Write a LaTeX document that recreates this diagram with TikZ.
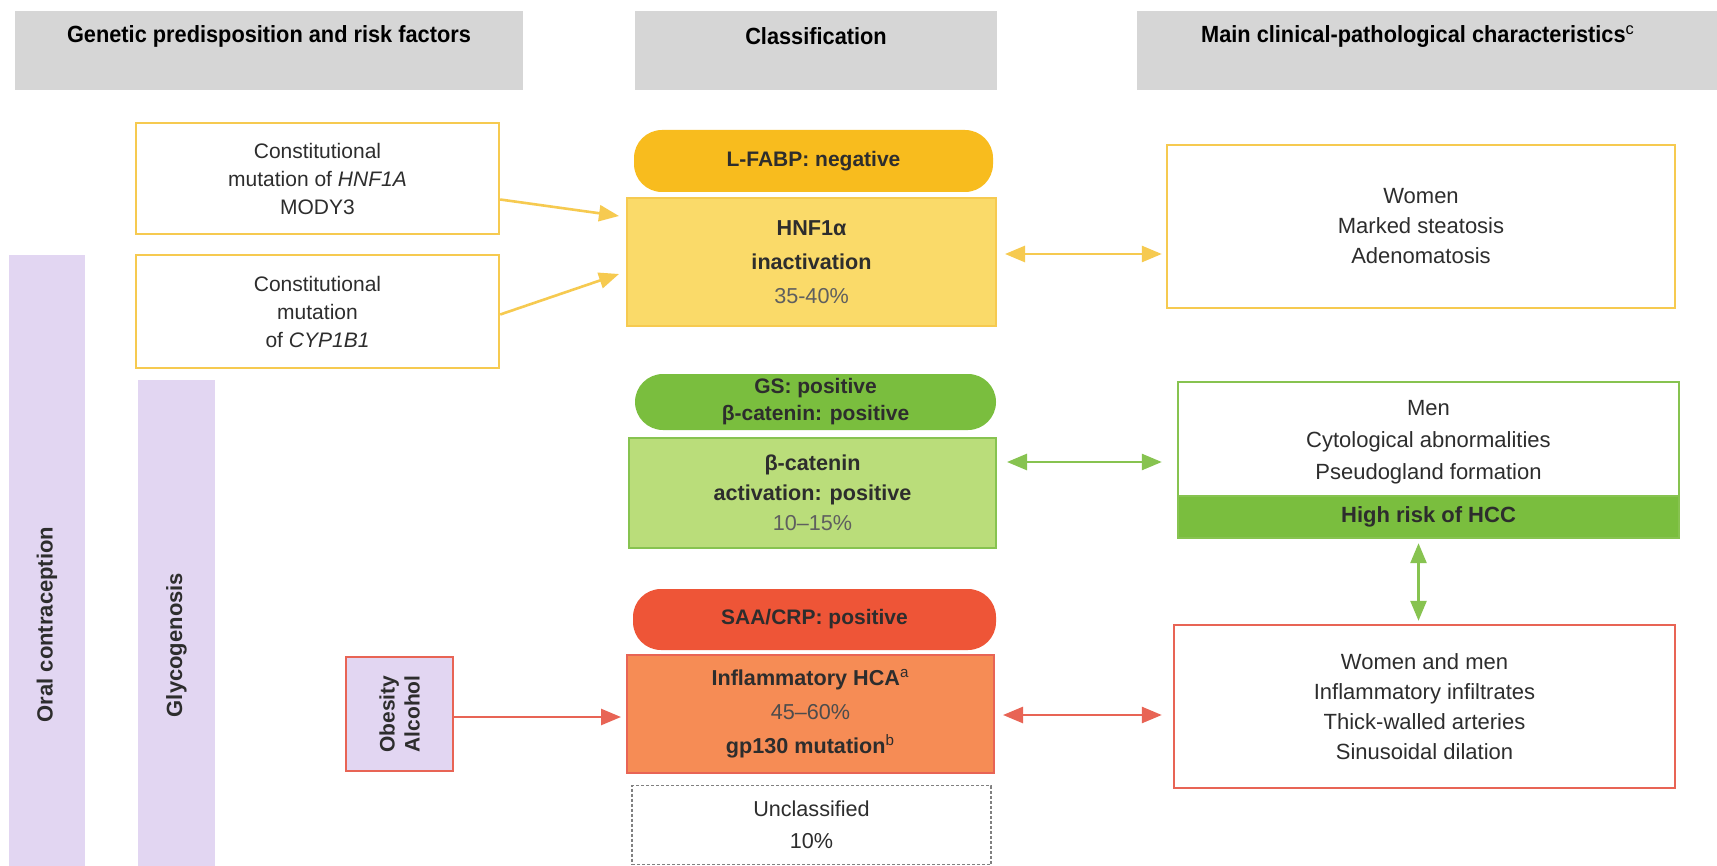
\documentclass[tikz,border=0pt]{standalone}
\usepackage{fontspec}
\setmainfont{Liberation Sans}
\newfontfamily\condfont[FakeStretch=0.93]{Liberation Sans}
\usetikzlibrary{arrows.meta,calc}
\definecolor{txt}{RGB}{45,45,45}
\definecolor{hdrgray}{RGB}{214,214,214}
\definecolor{ylw}{RGB}{246,202,80}
\definecolor{ypill}{RGB}{248,188,30}
\definecolor{yfill}{RGB}{250,218,105}
\definecolor{gpill}{RGB}{122,190,62}
\definecolor{gfill}{RGB}{186,221,122}
\definecolor{gline}{RGB}{135,195,80}
\definecolor{rpill}{RGB}{238,85,55}
\definecolor{rfill}{RGB}{246,140,85}
\definecolor{rline}{RGB}{232,100,85}
\definecolor{lav}{RGB}{226,214,242}
\definecolor{pct}{RGB}{95,95,95}
\begin{document}
\begin{tikzpicture}[x=0.5pt,y=-0.5pt,
  every node/.style={align=center,inner sep=0pt,text=txt,font=\fontsize{10.5}{14}\selectfont},
  hdrbox/.style={fill=hdrgray,minimum height=39.5pt},
  hdrtext/.style={text=black,font=\condfont\bfseries\fontsize{11.7}{13}\selectfont},
  ybox/.style={draw=ylw,line width=1.2pt,fill=white},
  gbox/.style={draw=gline,line width=1.2pt,fill=white},
  rbox/.style={draw=rline,line width=1.2pt,fill=white},
  rtext/.style={font=\fontsize{11}{15}\selectfont},
  pill/.style={rounded corners=14pt,font=\bfseries\fontsize{10.5}{14}\selectfont},
  bar/.style={fill=lav},
  bartext/.style={rotate=90,font=\bfseries\fontsize{11}{13}\selectfont},
  yarr/.style={draw=ylw,line width=1.3pt},
  garr/.style={draw=gline,line width=1.3pt},
  rarr/.style={draw=rline,line width=1.3pt}
]
\useasboundingbox (0,0) rectangle (1717,866);
\fill[white] (0,0) rectangle (1717,866);

% headers
\node[hdrbox,minimum width=254pt] (h1) at (269,50.5) {};
\node[hdrtext] at ($(h1.north)+(0,26)$) {Genetic predisposition and risk factors};
\node[hdrbox,minimum width=181pt] (h2) at (816,50.5) {};
\node[hdrtext] at ($(h2.north)+(0,26)$) {Classification};
\node[hdrbox,minimum width=290pt] (h3) at (1427,50.5) {};
\node[hdrtext] at ($(h3.north)+(-9,26)$) {Main clinical-pathological characteristics\textsuperscript{\normalfont c}};

% left column
\node[ybox,minimum width=181.5pt,minimum height=55.5pt] (a) at (317.5,178.5)
  {Constitutional\\mutation of \textit{HNF1A}\\MODY3};
\node[ybox,minimum width=181.5pt,minimum height=56.5pt] (b) at (317.5,311.5)
  {Constitutional\\mutation\\of \textit{CYP1B1}};
\node[bar,minimum width=38pt,minimum height=305.5pt] (oral) at (47,560.5) {};
\node[bartext] at ($(oral.center)+(0,64)$) {Oral contraception};
\node[bar,minimum width=38.5pt,minimum height=243pt] (glyco) at (176.5,623) {};
\node[bartext] at ($(glyco.center)+(0,22)$) {Glycogenosis};
\node[draw=rline,line width=1.2pt,fill=lav,minimum width=53.5pt,minimum height=57pt] (ob) at (399.5,714) {};
\node[rotate=90,font=\bfseries\fontsize{10.5}{12.5}\selectfont] at (ob.center) {Obesity\\Alcohol};

% middle column
\node[pill,fill=ypill,minimum width=179.5pt,minimum height=31pt] (lfabp) at (813.5,161) {L-FABP: negative};
\node[draw=ylw,line width=1pt,fill=yfill,minimum width=184.5pt,minimum height=64pt,font=\fontsize{10.8}{17}\selectfont] (hnf) at (811.5,262)
  {\textbf{HNF1α}\\\textbf{inactivation}\\\textcolor{pct}{35-40\%}};
\node[pill,fill=gpill,minimum width=180.5pt,minimum height=28pt,font=\bfseries\fontsize{10.5}{13.5}\selectfont] (gs) at (815.5,402)
  {GS: positive\\β-catenin: positive};
\node[draw=gline,line width=1pt,fill=gfill,minimum width=183.5pt,minimum height=55pt,font=\fontsize{10.8}{15}\selectfont] (bc) at (812.5,493)
  {\textbf{β-catenin}\\\textbf{activation: positive}\\\textcolor{pct}{10–15\%}};
\node[pill,fill=rpill,minimum width=181.5pt,minimum height=30.5pt] (saa) at (814.5,619.5) {SAA/CRP: positive};
\node[draw=rline,line width=1pt,fill=rfill,minimum width=183.5pt,minimum height=59pt,font=\fontsize{10.8}{17}\selectfont] (infl) at (810.5,714)
  {\textbf{Inflammatory HCA}\textsuperscript{a}\\\textcolor{pct!80!black}{45–60\%}\\\textbf{gp130 mutation}\textsuperscript{b}};
\node[draw=gray,line width=0.7pt,dash pattern=on 1.5pt off 1pt,fill=white,minimum width=179.5pt,minimum height=39.5pt,font=\fontsize{10.8}{16}\selectfont] (uncl) at (811.5,825)
  {Unclassified\\10\%};

% right column
\node[ybox,rtext,minimum width=254pt,minimum height=81.5pt] (women) at (1421,226.5)
  {Women\\Marked steatosis\\Adenomatosis};
\node[gbox,minimum width=250.5pt,minimum height=77.5pt] (men) at (1428.5,459.5) {};
\node[draw=gline,line width=1.2pt,fill=gpill,minimum width=250.5pt,minimum height=21pt,font=\bfseries\fontsize{11}{14}\selectfont] (hcc) at (1428.5,517) {High risk of HCC};
\node[rtext,font=\fontsize{11}{16}\selectfont] at (1428.5,442) {Men\\Cytological abnormalities\\Pseudogland formation};
\node[rbox,rtext,minimum width=250.5pt,minimum height=81.5pt] (wm) at (1424.5,706.5)
  {Women and men\\Inflammatory infiltrates\\Thick-walled arteries\\Sinusoidal dilation};

% connectors
\draw[yarr,-{Triangle[length=10pt,width=8pt]}] ($(a.east)+(0,21)$) -- ($(hnf.west)+(-7,-46)$);
\draw[yarr,-{Triangle[length=10pt,width=8pt]}] ($(b.east)+(0,3)$) -- ($(hnf.west)+(-7,12)$);
\draw[yarr,{Triangle[length=10pt,width=8pt]}-{Triangle[length=10pt,width=8pt]}] ($(hnf.east)+(8,-8)$) -- ($(women.west)+(-4,27.5)$);
\draw[garr,{Triangle[length=10pt,width=8pt]}-{Triangle[length=10pt,width=8pt]}] ($(bc.east)+(10,-31)$) -- ($(men.west)+(-15,2.5)$);
\draw[garr,{Triangle[length=10pt,width=8pt]}-{Triangle[length=10pt,width=8pt]}] ($(hcc.south)+(-10,4)$) -- ($(wm.north)+(-6,-3)$);
\draw[rarr,-{Triangle[length=10pt,width=8pt]}] ($(ob.east)+(0,3)$) -- ($(infl.west)+(-5,3)$);
\draw[rarr,{Triangle[length=10pt,width=8pt]}-{Triangle[length=10pt,width=8pt]}] ($(infl.east)+(8,1)$) -- ($(wm.west)+(-11,8.5)$);
\end{tikzpicture}
\end{document}
